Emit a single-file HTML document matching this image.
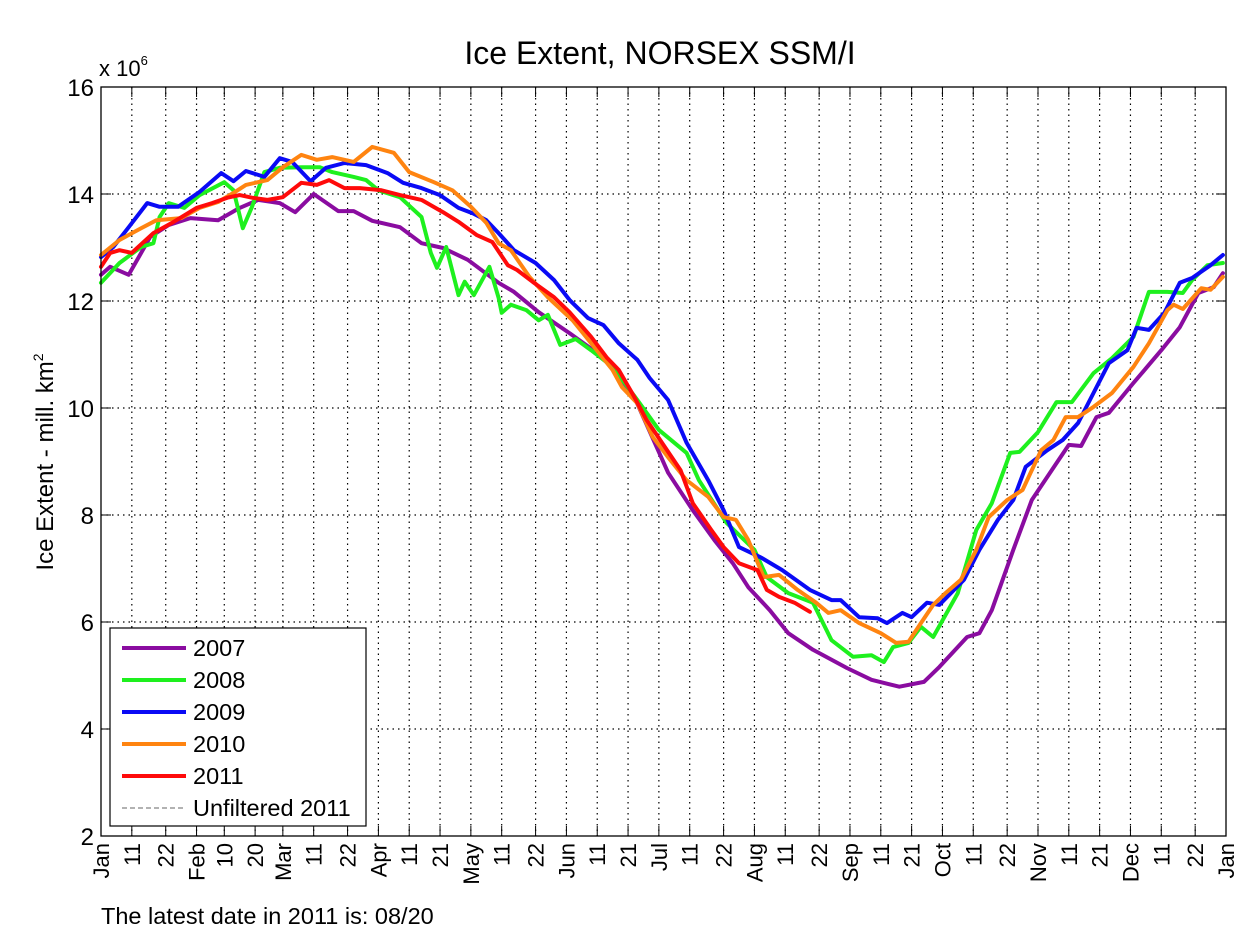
<!DOCTYPE html>
<html><head><meta charset="utf-8"><style>
html,body{margin:0;padding:0;background:#fff;}
svg text{font-family:"Liberation Sans",sans-serif;fill:#000;}
</style></head><body>
<svg id="chart" width="1250" height="939" viewBox="0 0 1250 939" xmlns="http://www.w3.org/2000/svg">
<rect x="0" y="0" width="1250" height="939" fill="#fff"/>
<text x="660" y="64" font-size="32" text-anchor="middle">Ice Extent, NORSEX SSM/I</text>
<text transform="translate(53,462) rotate(-90)" font-size="24" text-anchor="middle">Ice Extent - mill. km<tspan font-size="14" dy="-10">2</tspan></text>
<text x="99" y="76" font-size="22">x 10<tspan font-size="13" dy="-11">6</tspan></text>
<text x="101" y="924" font-size="23.5">The latest date in 2011 is: 08/20</text>
<g id="grid"></g>
<g id="series"></g>
<rect x="101" y="87" width="1125" height="749" fill="none" stroke="#000" stroke-width="1.3"/>
<g id="ticks"></g>
<g id="legend"></g>
</svg>
<script>
const yTicks=[2,4,6,8,10,12,14,16];
const xTickDays=[0,10,21,31,40,50,59,69,80,90,100,110,120,130,141,151,161,171,181,191,202,212,222,233,243,253,263,273,283,294,304,314,324,334,344,355,365];
const xTickLabels=["Jan","11","22","Feb","10","20","Mar","11","22","Apr","11","21","May","11","22","Jun","11","21","Jul","11","22","Aug","11","22","Sep","11","21","Oct","11","22","Nov","11","21","Dec","11","22","Jan"];
const seriesNames=["2007","2008","2009","2010","2011"];
const seriesColors=["#8a0ca0","#1ef01e","#0a0af5","#ff8410","#ff0a0a"];
const days2007=[0,3,9,16,22,29,38,45,51,58,63,69,77,82,88,97,104,111,119,129,134,142,152,164,173,184,192,199,205,210,217,223,231,242,250,259,267,272,281,285,289,296,302,310,314,318,323,327,335,344,350,356,361,364];
const vals2007=[12.49,12.64,12.49,13.2,13.42,13.55,13.51,13.74,13.89,13.83,13.66,14.0,13.68,13.68,13.5,13.38,13.08,12.99,12.77,12.34,12.17,11.79,11.4,10.9,10.21,8.79,8.09,7.53,7.1,6.65,6.22,5.79,5.48,5.14,4.92,4.79,4.88,5.16,5.72,5.79,6.22,7.35,8.28,8.97,9.31,9.29,9.83,9.91,10.47,11.08,11.51,12.15,12.26,12.52];
const days2008=[0,6,13,17,19,22,27,32,40,43,46,49,53,58,65,71,75,82,86,90,97,104,107,109,112,116,118,121,126,129,130,133,138,142,145,149,154,159,166,174,181,190,194,203,212,216,223,231,237,244,250,254,257,262,266,270,278,284,289,295,298,304,310,315,322,328,335,340,346,351,354,359,364];
const vals2008=[12.34,12.71,13.01,13.08,13.57,13.83,13.74,13.98,14.22,14.07,13.36,13.76,14.41,14.49,14.5,14.5,14.41,14.32,14.26,14.07,13.94,13.57,12.9,12.62,13.01,12.11,12.36,12.11,12.64,12.06,11.78,11.93,11.83,11.64,11.74,11.18,11.29,11.08,10.77,10.15,9.59,9.16,8.65,7.85,7.35,6.84,6.54,6.36,5.66,5.35,5.38,5.25,5.53,5.61,5.91,5.72,6.54,7.72,8.22,9.16,9.18,9.55,10.11,10.11,10.65,10.93,11.33,12.17,12.17,12.15,12.39,12.67,12.71];
const days2009=[0,4,9,15,19,25,32,39,43,47,53,58,62,68,73,79,86,93,98,104,110,116,121,125,129,134,141,147,152,158,163,168,174,178,184,190,197,202,207,214,221,230,237,240,246,252,255,260,263,268,272,280,285,291,296,300,307,312,317,322,327,333,336,340,345,350,354,360,364];
const vals2009=[12.82,13.01,13.38,13.83,13.76,13.76,14.04,14.39,14.24,14.43,14.32,14.67,14.6,14.24,14.49,14.58,14.54,14.39,14.21,14.11,13.98,13.74,13.63,13.51,13.27,12.95,12.71,12.39,12.02,11.68,11.55,11.21,10.9,10.56,10.15,9.35,8.65,8.09,7.4,7.21,6.97,6.6,6.41,6.41,6.09,6.07,5.98,6.17,6.09,6.36,6.32,6.79,7.35,7.91,8.28,8.9,9.21,9.4,9.72,10.28,10.84,11.08,11.5,11.46,11.78,12.34,12.43,12.67,12.86];
const days2010=[0,6,13,18,26,32,38,43,47,54,59,65,70,75,82,88,95,100,108,114,120,125,129,133,139,145,153,160,166,169,174,179,184,190,197,202,206,210,215,220,226,232,236,240,246,253,258,262,266,270,274,279,284,288,294,299,305,309,313,317,322,328,335,340,346,348,351,357,360,364];
const vals2010=[12.86,13.14,13.36,13.51,13.55,13.74,13.85,14.02,14.17,14.26,14.5,14.73,14.64,14.69,14.6,14.88,14.77,14.41,14.22,14.07,13.76,13.46,13.08,12.95,12.45,12.07,11.64,11.14,10.71,10.39,10.09,9.46,9.08,8.65,8.34,7.96,7.91,7.53,6.84,6.88,6.6,6.36,6.17,6.22,5.98,5.79,5.61,5.63,5.98,6.32,6.54,6.79,7.35,7.96,8.28,8.47,9.21,9.4,9.83,9.83,10.02,10.28,10.77,11.21,11.83,11.93,11.85,12.24,12.21,12.45];
const days2011=[0,3,6,10,17,23,31,36,41,45,49,54,59,65,70,74,79,84,91,97,104,111,116,122,127,132,135,140,147,152,159,164,168,173,177,182,188,192,198,202,207,213,216,220,225,230];
const vals2011=[12.64,12.9,12.95,12.9,13.27,13.46,13.74,13.83,13.93,13.98,13.93,13.89,13.94,14.21,14.17,14.26,14.11,14.11,14.07,13.98,13.89,13.66,13.48,13.23,13.1,12.67,12.58,12.36,12.07,11.79,11.33,10.95,10.71,10.21,9.78,9.35,8.84,8.22,7.72,7.4,7.1,6.97,6.6,6.47,6.36,6.19];
const allDays=[days2007,days2008,days2009,days2010,days2011];
const allVals=[vals2007,vals2008,vals2009,vals2010,vals2011];

const NS="http://www.w3.org/2000/svg";
const X0=101,X1=1226,Y0=836,Y1=87;
const xs=d=>X0+(X1-X0)*d/365;
const ys=v=>Y0-(Y0-Y1)*(v-2)/14;
function mk(tag,attrs,parent){const e=document.createElementNS(NS,tag);for(const k in attrs)e.setAttribute(k,attrs[k]);parent.appendChild(e);return e;}
const grid=document.getElementById('grid'),ticks=document.getElementById('ticks');
yTicks.forEach(v=>{
  const y=ys(v);
  if(v>2&&v<16){const g=mk('line',{x1:X0,x2:X1,y1:y,y2:y,stroke:'#000','stroke-width':1.2,'stroke-dasharray':'1.5,4'},grid);
  
  }
  const t1=mk('line',{x1:X0,x2:X0+10,y1:y,y2:y,stroke:'#000'},ticks);
  
  
  const t2=mk('line',{x1:X1-10,x2:X1,y1:y,y2:y,stroke:'#000'},ticks);
  
  
  const tx=mk('text',{x:X0-7,y:y+9,'font-size':24,'text-anchor':'end'},ticks);
  tx.textContent=v;
  
  
});
xTickDays.forEach((d,i)=>{
  const x=xs(d);
  if(d>0&&d<365){const g=mk('line',{x1:x,x2:x,y1:Y1,y2:Y0,stroke:'#000','stroke-width':1.2,'stroke-dasharray':'1.5,4'},grid);
  
  }
  const t1=mk('line',{x1:x,x2:x,y1:Y0-10,y2:Y0,stroke:'#000'},ticks);
  
  
  const t2=mk('line',{x1:x,x2:x,y1:Y1,y2:Y1+10,stroke:'#000'},ticks);
  
  
  const tx=mk('text',{transform:`translate(${x+8},${Y0+7}) rotate(-90)`,'font-size':22,'text-anchor':'end'},ticks);
  tx.textContent=xTickLabels[i];
  
  
});
const sg=document.getElementById('series');
allDays.forEach((ds,i)=>{
  const pts=ds.map((d,j)=>xs(d).toFixed(1)+','+ys(allVals[i][j]).toFixed(1)).join(' ');
  const p=mk('polyline',{points:pts,fill:'none',stroke:seriesColors[i],'stroke-width':4,'stroke-linejoin':'round','stroke-linecap':'round'},sg);
  
  
});
const lg=document.getElementById('legend');
const box=mk('rect',{x:110,y:628,width:256,height:198,fill:'#fff',stroke:'#000','stroke-width':1.2},lg);


const legNames=seriesNames.concat(['Unfiltered 2011']);
legNames.forEach((n,i)=>{
  const y=648+i*32;
  const ln=mk('line',{x1:122,x2:186,y1:y,y2:y,stroke:i<5?seriesColors[i]:'#666','stroke-width':i<5?4:1,'stroke-dasharray':i<5?'none':'5,3'},lg);
  
  
  const t=mk('text',{x:193,y:y+8,'font-size':23.5},lg);
  t.textContent=n;
  
  
});
</script>
</body></html>
